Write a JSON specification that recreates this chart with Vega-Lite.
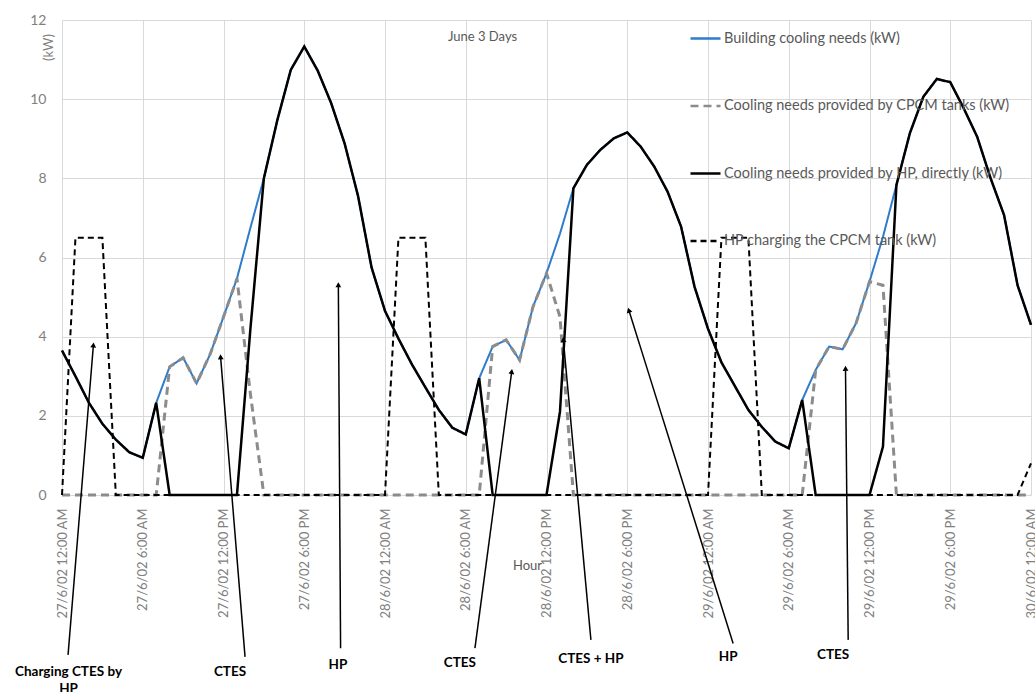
{
  "$schema": "https://vega.github.io/schema/vega-lite/v6.json",
  "autosize": "none",
  "width": 969,
  "height": 475,
  "padding": {"left": 62, "top": 20, "right": 4, "bottom": 197},
  "background": "white",
  "config": {
    "view": {"stroke": null},
    "font": "Lato",
    "axis": {"gridColor": "#d9d9d9", "gridWidth": 1, "ticks": false, "domain": false, "labelFont": "Lato", "titleFont": "Lato", "titleFontWeight": "normal"},
    "legend": {"labelFont": "Lato"}
  },
  "title": {"text": "June 3 Days", "anchor": "start", "frame": "group", "offset": 0, "dx": 386, "dy": 31, "fontSize": 13, "fontWeight": "normal", "color": "#595959", "font": "Lato"},
  "layer": [
    {
      "data": {"values": [
        {"time": "2002-06-27T00:00", "building": 3.65, "cpcm": 0, "hp": 3.65, "charging": 0},
        {"time": "2002-06-27T01:00", "building": 3.0, "cpcm": 0, "hp": 3.0, "charging": 6.5},
        {"time": "2002-06-27T02:00", "building": 2.33, "cpcm": 0, "hp": 2.33, "charging": 6.5},
        {"time": "2002-06-27T03:00", "building": 1.8, "cpcm": 0, "hp": 1.8, "charging": 6.5},
        {"time": "2002-06-27T04:00", "building": 1.4, "cpcm": 0, "hp": 1.4, "charging": 0},
        {"time": "2002-06-27T05:00", "building": 1.08, "cpcm": 0, "hp": 1.08, "charging": 0},
        {"time": "2002-06-27T06:00", "building": 0.94, "cpcm": 0, "hp": 0.94, "charging": 0},
        {"time": "2002-06-27T07:00", "building": 2.33, "cpcm": 0, "hp": 2.33, "charging": 0},
        {"time": "2002-06-27T08:00", "building": 3.24, "cpcm": 3.24, "hp": 0, "charging": 0},
        {"time": "2002-06-27T09:00", "building": 3.47, "cpcm": 3.47, "hp": 0, "charging": 0},
        {"time": "2002-06-27T10:00", "building": 2.82, "cpcm": 2.82, "hp": 0, "charging": 0},
        {"time": "2002-06-27T11:00", "building": 3.55, "cpcm": 3.55, "hp": 0, "charging": 0},
        {"time": "2002-06-27T12:00", "building": 4.5, "cpcm": 4.5, "hp": 0, "charging": 0},
        {"time": "2002-06-27T13:00", "building": 5.47, "cpcm": 5.47, "hp": 0, "charging": 0},
        {"time": "2002-06-27T14:00", "building": 6.75, "cpcm": 2.55, "hp": 4.2, "charging": 0},
        {"time": "2002-06-27T15:00", "building": 8.0, "cpcm": 0, "hp": 8.0, "charging": 0},
        {"time": "2002-06-27T16:00", "building": 9.47, "cpcm": 0, "hp": 9.47, "charging": 0},
        {"time": "2002-06-27T17:00", "building": 10.74, "cpcm": 0, "hp": 10.74, "charging": 0},
        {"time": "2002-06-27T18:00", "building": 11.33, "cpcm": 0, "hp": 11.33, "charging": 0},
        {"time": "2002-06-27T19:00", "building": 10.72, "cpcm": 0, "hp": 10.72, "charging": 0},
        {"time": "2002-06-27T20:00", "building": 9.9, "cpcm": 0, "hp": 9.9, "charging": 0},
        {"time": "2002-06-27T21:00", "building": 8.88, "cpcm": 0, "hp": 8.88, "charging": 0},
        {"time": "2002-06-27T22:00", "building": 7.55, "cpcm": 0, "hp": 7.55, "charging": 0},
        {"time": "2002-06-27T23:00", "building": 5.75, "cpcm": 0, "hp": 5.75, "charging": 0},
        {"time": "2002-06-28T00:00", "building": 4.65, "cpcm": 0, "hp": 4.65, "charging": 0},
        {"time": "2002-06-28T01:00", "building": 3.95, "cpcm": 0, "hp": 3.95, "charging": 6.5},
        {"time": "2002-06-28T02:00", "building": 3.3, "cpcm": 0, "hp": 3.3, "charging": 6.5},
        {"time": "2002-06-28T03:00", "building": 2.72, "cpcm": 0, "hp": 2.72, "charging": 6.5},
        {"time": "2002-06-28T04:00", "building": 2.15, "cpcm": 0, "hp": 2.15, "charging": 0},
        {"time": "2002-06-28T05:00", "building": 1.7, "cpcm": 0, "hp": 1.7, "charging": 0},
        {"time": "2002-06-28T06:00", "building": 1.53, "cpcm": 0, "hp": 1.53, "charging": 0},
        {"time": "2002-06-28T07:00", "building": 2.95, "cpcm": 0, "hp": 2.95, "charging": 0},
        {"time": "2002-06-28T08:00", "building": 3.75, "cpcm": 3.75, "hp": 0, "charging": 0},
        {"time": "2002-06-28T09:00", "building": 3.92, "cpcm": 3.92, "hp": 0, "charging": 0},
        {"time": "2002-06-28T10:00", "building": 3.41, "cpcm": 3.41, "hp": 0, "charging": 0},
        {"time": "2002-06-28T11:00", "building": 4.76, "cpcm": 4.76, "hp": 0, "charging": 0},
        {"time": "2002-06-28T12:00", "building": 5.6, "cpcm": 5.6, "hp": 0, "charging": 0},
        {"time": "2002-06-28T13:00", "building": 6.6, "cpcm": 4.5, "hp": 2.1, "charging": 0},
        {"time": "2002-06-28T14:00", "building": 7.75, "cpcm": 0, "hp": 7.75, "charging": 0},
        {"time": "2002-06-28T15:00", "building": 8.34, "cpcm": 0, "hp": 8.34, "charging": 0},
        {"time": "2002-06-28T16:00", "building": 8.72, "cpcm": 0, "hp": 8.72, "charging": 0},
        {"time": "2002-06-28T17:00", "building": 9.01, "cpcm": 0, "hp": 9.01, "charging": 0},
        {"time": "2002-06-28T18:00", "building": 9.16, "cpcm": 0, "hp": 9.16, "charging": 0},
        {"time": "2002-06-28T19:00", "building": 8.8, "cpcm": 0, "hp": 8.8, "charging": 0},
        {"time": "2002-06-28T20:00", "building": 8.3, "cpcm": 0, "hp": 8.3, "charging": 0},
        {"time": "2002-06-28T21:00", "building": 7.66, "cpcm": 0, "hp": 7.66, "charging": 0},
        {"time": "2002-06-28T22:00", "building": 6.78, "cpcm": 0, "hp": 6.78, "charging": 0},
        {"time": "2002-06-28T23:00", "building": 5.26, "cpcm": 0, "hp": 5.26, "charging": 0},
        {"time": "2002-06-29T00:00", "building": 4.2, "cpcm": 0, "hp": 4.2, "charging": 0},
        {"time": "2002-06-29T01:00", "building": 3.35, "cpcm": 0, "hp": 3.35, "charging": 6.5},
        {"time": "2002-06-29T02:00", "building": 2.75, "cpcm": 0, "hp": 2.75, "charging": 6.5},
        {"time": "2002-06-29T03:00", "building": 2.15, "cpcm": 0, "hp": 2.15, "charging": 6.5},
        {"time": "2002-06-29T04:00", "building": 1.72, "cpcm": 0, "hp": 1.72, "charging": 0},
        {"time": "2002-06-29T05:00", "building": 1.35, "cpcm": 0, "hp": 1.35, "charging": 0},
        {"time": "2002-06-29T06:00", "building": 1.18, "cpcm": 0, "hp": 1.18, "charging": 0},
        {"time": "2002-06-29T07:00", "building": 2.4, "cpcm": 0, "hp": 2.4, "charging": 0},
        {"time": "2002-06-29T08:00", "building": 3.16, "cpcm": 3.16, "hp": 0, "charging": 0},
        {"time": "2002-06-29T09:00", "building": 3.75, "cpcm": 3.75, "hp": 0, "charging": 0},
        {"time": "2002-06-29T10:00", "building": 3.68, "cpcm": 3.68, "hp": 0, "charging": 0},
        {"time": "2002-06-29T11:00", "building": 4.34, "cpcm": 4.34, "hp": 0, "charging": 0},
        {"time": "2002-06-29T12:00", "building": 5.39, "cpcm": 5.39, "hp": 0, "charging": 0},
        {"time": "2002-06-29T13:00", "building": 6.52, "cpcm": 5.3, "hp": 1.22, "charging": 0},
        {"time": "2002-06-29T14:00", "building": 7.83, "cpcm": 0, "hp": 7.83, "charging": 0},
        {"time": "2002-06-29T15:00", "building": 9.14, "cpcm": 0, "hp": 9.14, "charging": 0},
        {"time": "2002-06-29T16:00", "building": 10.06, "cpcm": 0, "hp": 10.06, "charging": 0},
        {"time": "2002-06-29T17:00", "building": 10.51, "cpcm": 0, "hp": 10.51, "charging": 0},
        {"time": "2002-06-29T18:00", "building": 10.43, "cpcm": 0, "hp": 10.43, "charging": 0},
        {"time": "2002-06-29T19:00", "building": 9.77, "cpcm": 0, "hp": 9.77, "charging": 0},
        {"time": "2002-06-29T20:00", "building": 9.05, "cpcm": 0, "hp": 9.05, "charging": 0},
        {"time": "2002-06-29T21:00", "building": 8.0, "cpcm": 0, "hp": 8.0, "charging": 0},
        {"time": "2002-06-29T22:00", "building": 7.07, "cpcm": 0, "hp": 7.07, "charging": 0},
        {"time": "2002-06-29T23:00", "building": 5.3, "cpcm": 0, "hp": 5.3, "charging": 0},
        {"time": "2002-06-30T00:00", "building": 4.3, "cpcm": 0, "hp": 4.3, "charging": 0.8}
      ]},
      "transform": [{"fold": ["building", "cpcm", "hp", "charging"], "as": ["series", "kW"]}],
      "encoding": {
        "x": {"field": "time", "type": "temporal", "title": "Hour",
          "scale": {"domain": [{"year": 2002, "month": 6, "date": 27, "hours": 0}, {"year": 2002, "month": 6, "date": 30, "hours": 0}]},
          "axis": {"format": "%-d/%-m/%y %-I:%M %p", "labelAngle": -90, "grid": true,
            "values": [
              {"year": 2002, "month": 6, "date": 27, "hours": 0}, {"year": 2002, "month": 6, "date": 27, "hours": 6}, {"year": 2002, "month": 6, "date": 27, "hours": 12}, {"year": 2002, "month": 6, "date": 27, "hours": 18},
              {"year": 2002, "month": 6, "date": 28, "hours": 0}, {"year": 2002, "month": 6, "date": 28, "hours": 6}, {"year": 2002, "month": 6, "date": 28, "hours": 12}, {"year": 2002, "month": 6, "date": 28, "hours": 18},
              {"year": 2002, "month": 6, "date": 29, "hours": 0}, {"year": 2002, "month": 6, "date": 29, "hours": 6}, {"year": 2002, "month": 6, "date": 29, "hours": 12}, {"year": 2002, "month": 6, "date": 29, "hours": 18},
              {"year": 2002, "month": 6, "date": 30, "hours": 0}],
            "labelPadding": 13, "labelFontSize": 13, "labelColor": "#808080", "labelOverlap": false, "labelFlush": false, "titleX": 465, "titleY": 70, "titleAlign": "center", "titleBaseline": "middle", "titleFontSize": 13, "titleColor": "#595959"}},
        "y": {"field": "kW", "type": "quantitative", "title": "(kW)",
          "scale": {"domain": [0, 12], "nice": false, "zero": false},
          "axis": {"values": [0, 2, 4, 6, 8, 10, 12], "grid": true, "labelPadding": 16, "labelFontSize": 14, "labelColor": "#808080", "titleX": -14, "titleY": 27, "titleAngle": -90, "titleAlign": "center", "titleBaseline": "middle", "titleFontSize": 13, "titleColor": "#808080"}},
        "color": {"field": "series", "type": "nominal",
          "scale": {"domain": ["building", "cpcm", "hp", "charging"], "range": ["#2e7ccc", "#8c8c8c", "#000000", "#000000"]},
          "legend": {"title": null, "orient": "none", "legendX": 627, "legendY": 2, "symbolType": "stroke", "symbolSize": 900, "symbolStrokeWidth": 2.5, "labelFontSize": 14.5, "labelColor": "#595959", "labelOffset": 2, "rowPadding": 44.5, "padding": 0, "labelLimit": 400,
            "labelExpr": "datum.label == 'building' ? 'Building cooling needs (kW)' : datum.label == 'cpcm' ? 'Cooling needs provided by CPCM tanks (kW)' : datum.label == 'hp' ? 'Cooling needs provided by HP, directly (kW)' : 'HP charging the CPCM tank (kW)'"}},
        "strokeDash": {"field": "series", "type": "nominal",
          "scale": {"domain": ["building", "cpcm", "hp", "charging"], "range": [[1, 0], [8, 5], [1, 0], [6, 4]]},
          "legend": {"title": null, "orient": "none", "legendX": 627, "legendY": 2, "symbolType": "stroke", "symbolSize": 900, "symbolStrokeWidth": 2.5, "labelFontSize": 14.5, "labelColor": "#595959", "labelOffset": 2, "rowPadding": 44.5, "padding": 0, "labelLimit": 400,
            "labelExpr": "datum.label == 'building' ? 'Building cooling needs (kW)' : datum.label == 'cpcm' ? 'Cooling needs provided by CPCM tanks (kW)' : datum.label == 'hp' ? 'Cooling needs provided by HP, directly (kW)' : 'HP charging the CPCM tank (kW)'"}}
      },
      "layer": [
        {"transform": [{"filter": "datum.series === 'building'"}], "mark": {"type": "line", "strokeWidth": 2}},
        {"transform": [{"filter": "datum.series === 'cpcm'"}], "mark": {"type": "line", "strokeWidth": 3}},
        {"transform": [{"filter": "datum.series === 'hp'"}], "mark": {"type": "line", "strokeWidth": 2.5}},
        {"transform": [{"filter": "datum.series === 'charging'"}], "mark": {"type": "line", "strokeWidth": 2}}
      ]
    },
    {
      "data": {"values": [
        {"label": "Charging CTES by HP", "sx": "2002-06-27T00:27", "sy": -4.04, "tx": "2002-06-27T02:20", "ty": 3.79},
        {"label": "CTES", "sx": "2002-06-27T13:36", "sy": -4.09, "tx": "2002-06-27T11:47", "ty": 3.49},
        {"label": "HP", "sx": "2002-06-27T20:42", "sy": -3.87, "tx": "2002-06-27T20:32", "ty": 5.31},
        {"label": "CTES", "sx": "2002-06-28T06:41", "sy": -3.87, "tx": "2002-06-28T09:25", "ty": 3.12},
        {"label": "CTES + HP", "sx": "2002-06-28T15:18", "sy": -3.66, "tx": "2002-06-28T13:15", "ty": 3.92},
        {"label": "HP", "sx": "2002-06-29T01:52", "sy": -3.75, "tx": "2002-06-28T18:07", "ty": 4.67},
        {"label": "CTES", "sx": "2002-06-29T10:25", "sy": -3.66, "tx": "2002-06-29T10:13", "ty": 3.2}
      ]},
      "layer": [
        {"mark": {"type": "rule", "color": "black", "strokeWidth": 1.5},
          "encoding": {
            "x": {"field": "sx", "type": "temporal", "title": "Hour"},
            "y": {"field": "sy", "type": "quantitative", "title": "(kW)"},
            "x2": {"field": "tx"},
            "y2": {"field": "ty"}
          }},
        {"transform": [{"calculate": "atan2((time(datum.tx) - time(datum.sx)) / 3600000 * 13.458, (datum.ty - datum.sy) * 39.583) * 180 / PI", "as": "tilt"}],
          "mark": {"type": "point", "shape": "triangle-up", "filled": true, "color": "black", "size": 34, "opacity": 1},
          "encoding": {
            "x": {"field": "tx", "type": "temporal", "title": "Hour"},
            "y": {"field": "ty", "type": "quantitative", "title": "(kW)"},
            "angle": {"field": "tilt", "type": "quantitative", "scale": null}
          }}
      ]
    },
    {
      "data": {"values": [
        {"label": "Charging CTES by", "time": "2002-06-27T00:29", "kW": -4.46},
        {"label": "HP", "time": "2002-06-27T00:29", "kW": -4.91},
        {"label": "CTES", "time": "2002-06-27T12:29", "kW": -4.46},
        {"label": "HP", "time": "2002-06-27T20:30", "kW": -4.29},
        {"label": "CTES", "time": "2002-06-28T05:34", "kW": -4.25},
        {"label": "CTES + HP", "time": "2002-06-28T15:18", "kW": -4.14},
        {"label": "HP", "time": "2002-06-29T01:30", "kW": -4.1},
        {"label": "CTES", "time": "2002-06-29T09:18", "kW": -4.04}
      ]},
      "mark": {"type": "text", "font": "Lato", "fontSize": 13.5, "fontWeight": "bold", "color": "black", "align": "center", "baseline": "middle"},
      "encoding": {
        "x": {"field": "time", "type": "temporal", "title": "Hour"},
        "y": {"field": "kW", "type": "quantitative", "title": "(kW)"},
        "text": {"field": "label"}
      }
    }
  ]
}
